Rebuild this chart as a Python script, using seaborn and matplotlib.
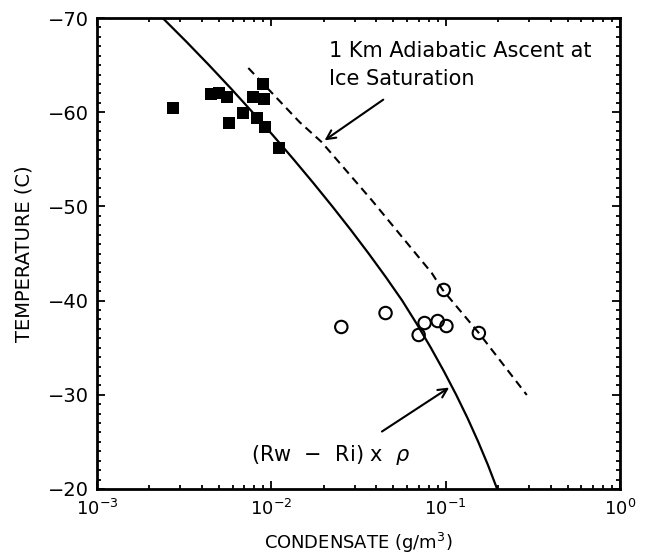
import numpy as np
import pandas as pd
import matplotlib
matplotlib.use("Agg")
import matplotlib.pyplot as plt
import seaborn as sns
from matplotlib.ticker import LogLocator, MultipleLocator, NullFormatter

# ---- data ----
sq_cond = [0.00274, 0.00452, 0.00502, 0.00558, 0.00574, 0.00690,
           0.00788, 0.00912, 0.00900, 0.00831, 0.00924, 0.0110]
sq_temp = [-60.45, -61.93, -62.04, -61.61, -58.85, -59.92,
           -61.61, -61.40, -62.99, -59.38, -58.43, -56.20]

circ_cond = [0.0252, 0.0452, 0.0975, 0.0757, 0.0700, 0.0900, 0.101, 0.155]
circ_temp = [-37.2, -38.68, -41.13, -37.62, -36.35, -37.83, -37.30, -36.56]

curve_temp = [-70, -67.5, -65, -62.5, -60, -57.5, -55, -52.5, -50, -47.5, -45,
              -42.5, -40, -37.5, -35, -32.5, -30, -27.5, -25, -22.5, -20]
curve_cond = [0.00238, 0.003249, 0.004389, 0.005875, 0.007795, 0.010264,
              0.013408, 0.017387, 0.022375, 0.028572, 0.036149, 0.045351,
              0.05632, 0.06841, 0.08218, 0.09768, 0.1149, 0.1337, 0.1538,
              0.1752, 0.1974]

adiab_temp = [-64.69, -58.96, -56.84, -50.68, -42.93, -41.13, -36.56, -29.98]
adiab_cond = [0.00738, 0.0145, 0.0194, 0.0376, 0.0832, 0.0962, 0.155, 0.292]

x_ticks = [1e-3, 1e-2, 1e-1, 1.0]
x_ticklabels = [r"$10^{-3}$", r"$10^{-2}$", r"$10^{-1}$", r"$10^{0}$"]
y_ticks = [-70, -60, -50, -40, -30, -20]
y_ticklabels = ["\u221270", "\u221260", "\u221250", "\u221240", "\u221230", "\u221220"]

sns.set_style("ticks")
plt.rcParams["font.family"] = ["DejaVu Sans"]
plt.rcParams["mathtext.fontset"] = "dejavusans"
for k in ["text.color", "axes.labelcolor", "xtick.color", "ytick.color",
          "axes.edgecolor"]:
    plt.rcParams[k] = "black"

fig = plt.figure(figsize=(6.46, 5.57), dpi=100)
ax = fig.add_axes([97 / 646, 1 - 489 / 557, 523 / 646, 471 / 557])

# curves
sns.lineplot(x=curve_cond, y=curve_temp, sort=False, estimator=None,
             color="black", lw=1.6, ax=ax)
sns.lineplot(x=adiab_cond, y=adiab_temp, sort=False, estimator=None,
             color="black", lw=1.5, linestyle=(0, (4, 2.6)), ax=ax)

# points
sq_df = pd.DataFrame({"cond": sq_cond, "temp": sq_temp})
ci_df = pd.DataFrame({"cond": circ_cond, "temp": circ_temp})
sns.scatterplot(data=sq_df, x="cond", y="temp", marker="s", s=82,
                color="black", edgecolor="black", linewidth=0, ax=ax, zorder=3)
sns.scatterplot(data=ci_df, x="cond", y="temp", marker="o", s=80,
                facecolor="none", edgecolor="black", linewidth=1.5, ax=ax, zorder=3)

ax.set_xscale("log")
ax.set_xlim(1e-3, 1.0)
ax.set_ylim(-20, -70)

ax.set_xticks(x_ticks, x_ticklabels)
ax.xaxis.set_minor_locator(LogLocator(base=10, subs=np.arange(2, 10)))
ax.xaxis.set_minor_formatter(NullFormatter())
ax.set_yticks(y_ticks, y_ticklabels)
ax.yaxis.set_minor_locator(MultipleLocator(1))

ax.tick_params(which="both", direction="in", top=True, right=True,
               width=1.3, colors="black")
ax.tick_params(axis="x", which="major", labelsize=13, pad=7)
ax.tick_params(axis="y", which="major", labelsize=14, pad=6)
ax.tick_params(which="major", length=6)
ax.tick_params(which="minor", length=3)
for sp in ax.spines.values():
    sp.set_linewidth(2.0)
    sp.set_color("black")

ax.set_xlabel("CONDENSATE (g/m$^3$)", fontsize=13, labelpad=9)
ax.set_ylabel("TEMPERATURE (C)", fontsize=14, labelpad=10)

# annotations
ax.text(0.0213, -65.86, "1 Km Adiabatic Ascent at", fontsize=15,
        ha="left", va="baseline")
ax.text(0.0213, -62.9, "Ice Saturation", fontsize=15, ha="left", va="baseline")
ax.annotate("", xy=(0.0196, -56.84), xytext=(0.0452, -61.5),
            arrowprops=dict(arrowstyle="->", color="black", lw=1.5,
                            mutation_scale=16))
ax.text(0.00768, -22.97, "(Rw  \u2212  Ri) x  $\\rho$", fontsize=15,
        ha="left", va="baseline")
ax.annotate("", xy=(0.108, -30.93), xytext=(0.0418, -25.94),
            arrowprops=dict(arrowstyle="->", color="black", lw=1.5,
                            mutation_scale=16))

fig.savefig("out.png", dpi=100)
